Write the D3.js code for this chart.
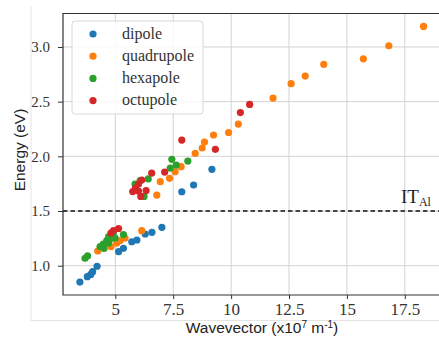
<!DOCTYPE html>
<html>
<head>
<meta charset="utf-8">
<script src="https://cdn.jsdelivr.net/npm/d3@7"></script>
<style>
  body { margin: 0; background: #fff; }
  .serif { font-family: "Liberation Serif", "Times New Roman", "DejaVu Serif", serif; }
  .sans { font-family: "Liberation Sans", Arial, "Open Sans", sans-serif; }
</style>
</head>
<body>
<svg id="chart" width="439" height="339"></svg>
<script>
// values: [wavevector (x10^7 m^-1), energy (eV)]
const dipole = [
  [3.47, 0.85], [3.79, 0.90], [3.94, 0.92], [4.02, 0.945], [4.21, 0.995],
  [5.14, 1.128], [5.35, 1.159], [5.71, 1.219], [5.93, 1.235], [6.29, 1.29],
  [6.58, 1.305], [7.01, 1.351], [7.87, 1.676], [8.38, 1.738], [9.17, 1.881]
];
const quadrupole = [
  [4.24, 1.134], [4.81, 1.174], [5.06, 1.207], [5.20, 1.23], [5.42, 1.253],
  [6.14, 1.32], [6.79, 1.646], [6.94, 1.768], [7.34, 1.799], [7.58, 1.859],
  [7.84, 1.905], [8.45, 2.027], [8.75, 2.076], [8.85, 2.131], [9.24, 2.195],
  [9.89, 2.218], [10.31, 2.295], [11.81, 2.533], [12.59, 2.664], [13.20, 2.734],
  [14.00, 2.841], [15.71, 2.892], [16.81, 3.011], [18.31, 3.188]
];
const hexapole = [
  [3.69, 1.068], [3.80, 1.089], [4.34, 1.174], [4.48, 1.198], [4.51, 1.157],
  [4.63, 1.23], [4.71, 1.207], [4.77, 1.244], [4.71, 1.265], [4.91, 1.296],
  [4.99, 1.253], [5.35, 1.285], [5.85, 1.747], [6.07, 1.777], [6.42, 1.793],
  [6.24, 1.633], [7.44, 1.973], [7.37, 1.893], [7.63, 1.92], [8.13, 1.957]
];
const octupole = [
  [4.81, 1.299], [4.92, 1.322], [5.14, 1.34], [5.75, 1.678], [5.87, 1.71],
  [6.00, 1.747], [6.14, 1.783], [6.00, 1.683], [6.10, 1.633], [6.33, 1.687],
  [6.57, 1.847], [7.13, 1.856], [7.87, 2.149], [9.32, 2.064], [10.40, 2.40],
  [10.80, 2.475]
];

const seriesNames = ["dipole", "quadrupole", "hexapole", "octupole"];
const seriesData = [dipole, quadrupole, hexapole, octupole];
const seriesColors = ["#1f77b4", "#ff7f0e", "#2ca02c", "#d62728"];

const xTicks = [5, 7.5, 10, 12.5, 15, 17.5];
const yTicks = [1.0, 1.5, 2.0, 2.5, 3.0];
const threshold = 1.5;

const svg = d3.select("#chart");
const margin = { left: 63, top: 13.5, right: 440, bottom: 295 };

const x = d3.scaleLinear().domain([2.74, 19.02]).range([margin.left, margin.right]);
const y = d3.scaleLinear().domain([0.732, 3.306]).range([margin.bottom, margin.top]);

// faint frame of the pasted figure
svg.append("line").attr("x1", 31).attr("x2", 31).attr("y1", 6).attr("y2", 321)
  .attr("stroke", "#e4e4e4").attr("stroke-width", 1);
svg.append("line").attr("x1", 31).attr("x2", 439).attr("y1", 320.5).attr("y2", 320.5)
  .attr("stroke", "#e4e4e4").attr("stroke-width", 1);

// grid
let grid = svg.append("g").attr("class", "grid");
grid.selectAll("line.gx").data(xTicks).enter().append("line")
  .attr("x1", d => x(d)).attr("x2", d => x(d))
  .attr("y1", margin.top).attr("y2", margin.bottom)
  .attr("stroke", "#d2d2d2").attr("stroke-width", 1);
grid.selectAll("line.gy").data(yTicks).enter().append("line")
  .attr("x1", margin.left).attr("x2", margin.right)
  .attr("y1", d => y(d)).attr("y2", d => y(d))
  .attr("stroke", "#d2d2d2").attr("stroke-width", 1);

// axes
let xAxis = svg.append("g")
  .attr("transform", "translate(0," + margin.bottom + ")")
  .call(d3.axisBottom(x).tickValues(xTicks).tickSize(4).tickPadding(4)
    .tickFormat(d => d3.format("")(d)));
let yAxis = svg.append("g")
  .attr("transform", "translate(" + margin.left + ",0)")
  .call(d3.axisLeft(y).tickValues(yTicks).tickSize(5).tickPadding(8)
    .tickFormat(d3.format(".1f")));
[xAxis, yAxis].forEach(function(ax) {
  ax.attr("font-family", null).attr("font-size", null);
  ax.select(".domain").remove();
  ax.selectAll(".tick line").attr("stroke", "#333");
  ax.selectAll(".tick text").attr("class", "serif").attr("fill", "#333");
});
xAxis.selectAll(".tick text").attr("font-size", 17);
yAxis.selectAll(".tick text").attr("font-size", 15);

// spines: left, bottom, top
svg.append("path")
  .attr("d", "M" + margin.right + "," + margin.top + "H" + margin.left +
    "V" + margin.bottom + "H" + margin.right)
  .attr("fill", "none").attr("stroke", "#333").attr("stroke-width", 1.2);

// threshold line
svg.append("line")
  .attr("x1", margin.left).attr("x2", margin.right)
  .attr("y1", y(threshold)).attr("y2", y(threshold))
  .attr("stroke", "#111").attr("stroke-width", 1.5)
  .attr("stroke-dasharray", "4.5,3");
let itLabel = svg.append("text").attr("class", "serif")
  .attr("x", 401).attr("y", y(threshold) - 8)
  .attr("font-size", 19).attr("fill", "#222");
itLabel.append("tspan").text("IT");
itLabel.append("tspan").attr("dy", 3).attr("font-size", 12).text("Al");

// points
seriesData.forEach(function(data, i) {
  svg.append("g").attr("class", "series-" + seriesNames[i])
    .selectAll("circle").data(data).enter().append("circle")
    .attr("cx", d => x(d[0])).attr("cy", d => y(d[1]))
    .attr("r", 3.6).attr("fill", seriesColors[i]);
});

// legend
let legend = svg.append("g").attr("class", "legend");
legend.append("rect")
  .attr("x", 72).attr("y", 21).attr("width", 131).attr("height", 93)
  .attr("rx", 3).attr("ry", 3)
  .attr("fill", "#fff").attr("fill-opacity", 0.85)
  .attr("stroke", "#d8d8d8").attr("stroke-width", 1);
let rows = legend.selectAll("g.row").data(seriesNames).enter().append("g")
  .attr("class", "row")
  .attr("transform", (d, i) => "translate(0," + (34 + i * 22.2) + ")");
rows.append("circle").attr("cx", 93).attr("cy", 0).attr("r", 3.6)
  .attr("fill", (d, i) => seriesColors[i]);
rows.append("text").attr("class", "serif").attr("x", 122).attr("y", 4.5)
  .attr("font-size", 16).attr("fill", "#333")
  .text(d => d);

// axis titles
let xTitle = svg.append("text").attr("class", "sans")
  .attr("x", 262).attr("y", 333).attr("text-anchor", "middle")
  .attr("font-size", 15.5).attr("fill", "#222");
xTitle.append("tspan").text("Wavevector (x10");
xTitle.append("tspan").attr("dy", -5).attr("font-size", 10).text("7");
xTitle.append("tspan").attr("dy", 5).text(" m");
xTitle.append("tspan").attr("dy", -5).attr("font-size", 10).text("-1");
xTitle.append("tspan").attr("dy", 5).text(")");

svg.append("text").attr("class", "sans")
  .attr("transform", "translate(25," + 150 + ") rotate(-90)")
  .attr("text-anchor", "middle")
  .attr("font-size", 15.5).attr("fill", "#222")
  .text("Energy (eV)");
</script>
</body>
</html>
